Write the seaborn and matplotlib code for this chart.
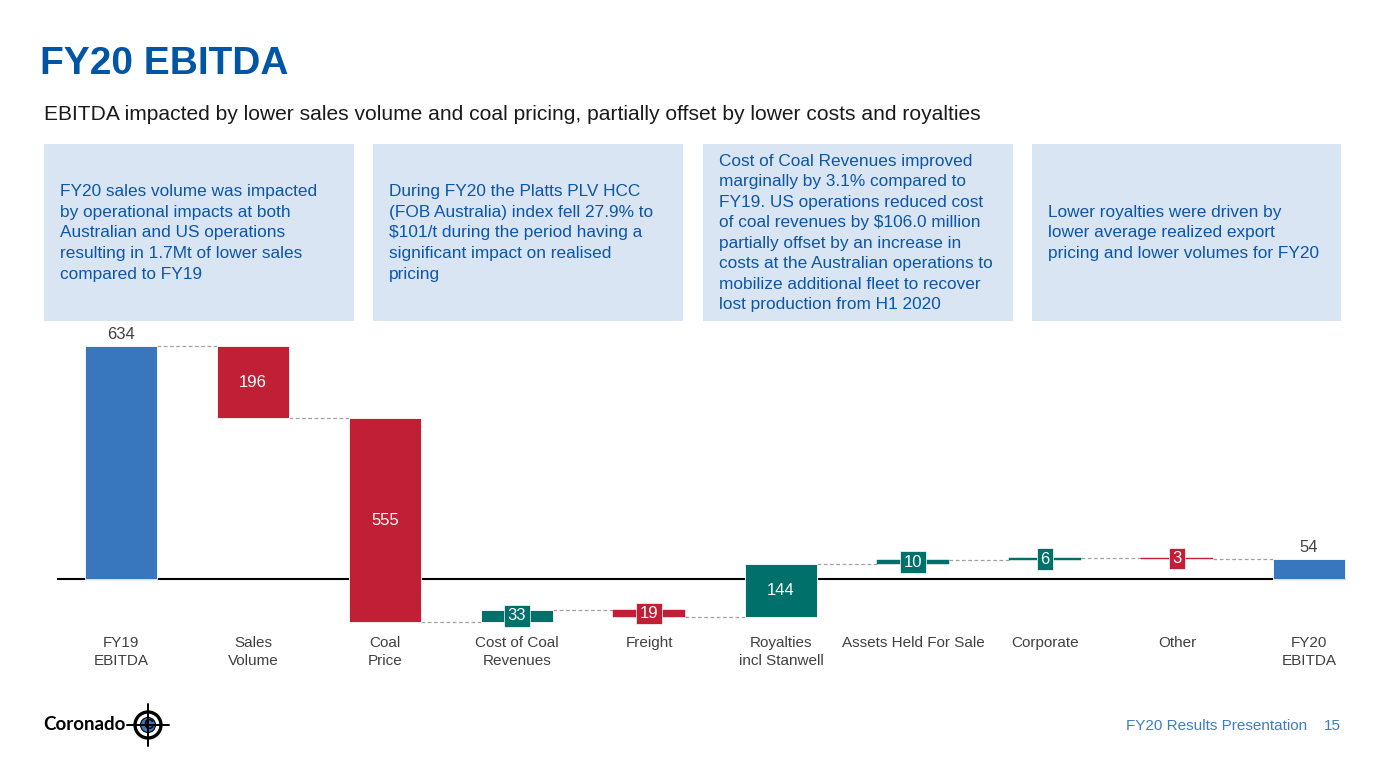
import matplotlib
matplotlib.use("Agg")
import matplotlib.pyplot as plt
from matplotlib.patches import Rectangle, Circle
from matplotlib.lines import Line2D
import numpy as np
import pandas as pd
import seaborn as sns

# Data.
categories = ["FY19\nEBITDA", "Sales\nVolume", "Coal\nPrice", "Cost of Coal\nRevenues",
              "Freight", "Royalties\nincl Stanwell", "Assets Held For Sale",
              "Corporate", "Other", "FY20\nEBITDA"]
deltas = [634, -196, -555, 33, -19, 144, 10, 6, -3, 54]
is_total = [True, False, False, False, False, False, False, False, False, True]

box_texts = [
    "FY20 sales volume was impacted\nby operational impacts at both\nAustralian and US operations\n"
    "resulting in 1.7Mt of lower sales\ncompared to FY19",
    "During FY20 the Platts PLV HCC\n(FOB Australia) index fell 27.9% to\n$101/t during the period having a\n"
    "significant impact on realised\npricing",
    "Cost of Coal Revenues improved\nmarginally by 3.1% compared to\nFY19. US operations reduced cost\n"
    "of coal revenues by $106.0 million\npartially offset by an increase in\ncosts at the Australian operations to\n"
    "mobilize additional fleet to recover\nlost production from H1 2020",
    "Lower royalties were driven by\nlower average realized export\npricing and lower volumes for FY20",
]

# Colours.
BLUE = "#3877BD"
RED = "#C01F35"
GREEN = "#00706A"
TITLE = "#0055A5"
BOX_BG = "#DAE5F4"
BOX_TXT = "#0B56A8"
GREY_TXT = "#404040"

sns.set_style("white")
plt.rcParams["font.family"] = ["Liberation Sans", "DejaVu Sans"]

W, H = 1386, 780
fig = plt.figure(figsize=(W / 100, H / 100), dpi=100)


def fx(px):
    return px / W


def fy(py):
    return 1 - py / H


# Waterfall geometry: bottoms and heights from the running total.
bottoms, heights, levels = [], [], []
run = 0
for d, tot in zip(deltas, is_total):
    if tot:
        bottoms.append(0)
        heights.append(d)
        run = d
    else:
        bottoms.append(run)
        heights.append(d)
        run = run + d
    levels.append(run)

colors = []
for d, tot in zip(deltas, is_total):
    if tot:
        colors.append(BLUE)
    elif d < 0:
        colors.append(RED)
    else:
        colors.append(GREEN)

df = pd.DataFrame({"category": categories, "height": heights})

ax = fig.add_axes([fx(57), fy(630), fx(1346) - fx(57), (630 - 330) / H])
ax.axhline(0, color="black", lw=1.5, zorder=1)
sns.barplot(data=df, x="category", y="height", bottom=np.array(bottoms, dtype=float),
            color=BLUE, width=0.55, errorbar=None, ax=ax, zorder=2,
            edgecolor="white", linewidth=0.6)
for patch, c, d in zip(ax.patches, colors, deltas):
    patch.set_facecolor(c)
    if abs(d) < 20:
        # thin bars would be washed out by the white edge
        patch.set_edgecolor(c)
        patch.set_linewidth(0.3)

ax.set_xlim(-0.485, 9.28)
ax.set_ylim(-138.8, 677.6)
ax.set_xlabel("")
ax.set_ylabel("")
ax.set_yticks([])
ax.tick_params(axis="x", length=0, pad=4.5, labelsize=11, labelcolor=GREY_TXT)
for lab in ax.get_xticklabels():
    lab.set_linespacing(1.35)
sns.despine(ax=ax, left=True, bottom=True)

# Dashed connectors between bars.
half = 0.55 / 2
for i in range(len(categories) - 1):
    ax.plot([i + half, i + 1 - half], [levels[i], levels[i]], ls=(0, (3, 2)),
            color="#A0A0A0", lw=0.9, zorder=1)

# Value labels.
for i, (d, tot) in enumerate(zip(deltas, is_total)):
    if tot:
        ax.text(i, d + 12, str(abs(d)), ha="center", va="bottom", fontsize=12, color=GREY_TXT)
    else:
        mid = bottoms[i] + d / 2
        if abs(d) >= 100:
            ax.text(i, mid, str(abs(d)), ha="center", va="center", fontsize=12, color="white",
                    zorder=4)
        else:
            ax.text(i, mid, str(abs(d)), ha="center", va="center", fontsize=12, color="white",
                    zorder=4, bbox=dict(boxstyle="square,pad=0.2", fc=colors[i], ec="white",
                                        lw=0.5))

# Title and subtitle.
fig.text(fx(40), fy(64), "FY20 EBITDA", fontsize=28, fontweight="bold", color=TITLE,
         va="center", ha="left")
fig.text(fx(44), fy(115), "EBITDA impacted by lower sales volume and coal pricing, partially offset "
         "by lower costs and royalties", fontsize=15.1, color="#1A1A1A", va="center", ha="left")

# Commentary boxes.
boxes = [(44, 354), (373, 683), (703, 1013), (1032, 1341)]
for (x0, x1), txt in zip(boxes, box_texts):
    fig.patches.append(Rectangle((fx(x0), fy(321)), fx(x1) - fx(x0), (321 - 144) / H,
                                 transform=fig.transFigure, facecolor=BOX_BG, edgecolor="none",
                                 zorder=0))
    fig.text(fx(x0 + 16), fy(233), txt, fontsize=12.4, color=BOX_TXT, va="center", ha="left",
             linespacing=1.46)

# Footer.
fig.text(fx(1307), fy(726), "FY20 Results Presentation", fontsize=11, color="#3C7DC4",
         ha="right", va="center")
fig.text(fx(1341), fy(726), "15", fontsize=11, color="#3C7DC4", ha="right", va="center")

# Logo.
fig.text(fx(43), fy(725), "Coronado", fontsize=13.5, fontweight="bold", color="black",
         ha="left", va="center", family=["Lato", "DejaVu Sans"])
cx, cy = 148 / 100, (H - 725) / 100
inch = fig.dpi_scale_trans
fig.lines.append(Line2D([cx, cx], [cy - 0.21, cy + 0.21], transform=inch, color="black", lw=1.4))
fig.lines.append(Line2D([cx - 0.21, cx + 0.21], [cy, cy], transform=inch, color="black", lw=1.4))
fig.patches.append(Circle((cx, cy), 0.13, transform=inch, facecolor="white",
                          edgecolor="black", lw=2.4))
fig.patches.append(Circle((cx, cy), 0.075, transform=inch, facecolor=BLUE,
                          edgecolor="black", lw=0.8))
fig.text(fx(148), fy(725), "C", fontsize=10, fontweight="bold", color="black", ha="center",
         va="center")

fig.savefig("out.png", dpi=100)
plt.close(fig)
